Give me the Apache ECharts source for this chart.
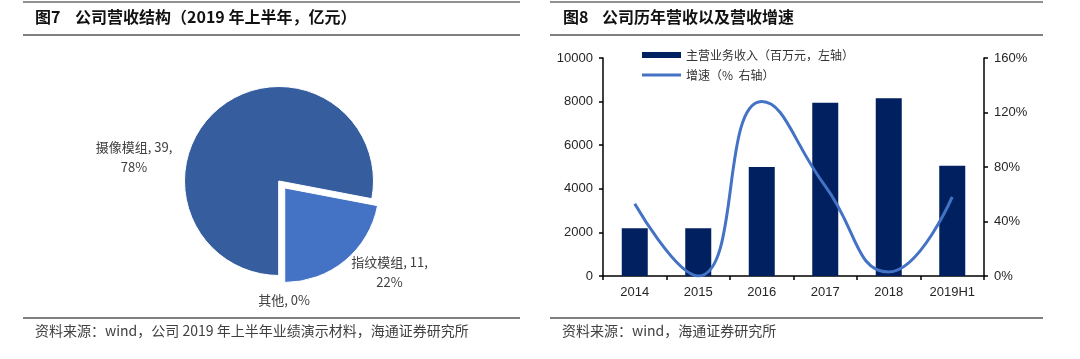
<!DOCTYPE html>
<html>
<head>
<meta charset="utf-8">
<script src="https://cdn.jsdelivr.net/npm/echarts@6/dist/echarts.min.js"></script>
<style>
html,body{margin:0;padding:0;background:#fff;}
#c{width:1080px;height:359px;}
</style>
</head>
<body>
<div id="c"></div>
<script>
// Pie data (2019H1, 亿元)
const pieNames = ['摄像模组', '指纹模组', '其他'];
const pieValues = [39, 11, 0];
// Bar + line data
const years = ['2014', '2015', '2016', '2017', '2018', '2019H1'];
const revenue = [2190, 2190, 5000, 7950, 8150, 5060];
const growth = [53, 0, 128, 66, 3, 58];
// Tick labels
const leftTicks = [0, 2000, 4000, 6000, 8000, 10000];
const rightTicks = [0, 40, 80, 120, 160];

const pieLabelPos = [[134, 157], [412, 252], [284, 300]];

const CJK = '"Noto Sans CJK SC", "Liberation Sans", sans-serif';
const LAT = '"Liberation Sans", Arial, sans-serif';

const chart = echarts.init(document.getElementById('c'), null, {renderer: 'canvas'});

const option = {
  backgroundColor: '#fff',
  animation: false,
  graphic: [
    {type: 'line', shape: {x1: 23, y1: 2, x2: 520, y2: 2}, style: {stroke: '#222', lineWidth: 1}},
    {type: 'line', shape: {x1: 23, y1: 35, x2: 520, y2: 35}, style: {stroke: '#7f7f7f', lineWidth: 2}},
    {type: 'line', shape: {x1: 23, y1: 318, x2: 520, y2: 318}, style: {stroke: '#7f7f7f', lineWidth: 2}},
    {type: 'line', shape: {x1: 550, y1: 2, x2: 1043, y2: 2}, style: {stroke: '#222', lineWidth: 1}},
    {type: 'line', shape: {x1: 550, y1: 35, x2: 1043, y2: 35}, style: {stroke: '#7f7f7f', lineWidth: 2}},
    {type: 'line', shape: {x1: 550, y1: 318, x2: 1043, y2: 318}, style: {stroke: '#7f7f7f', lineWidth: 2}},
    {type: 'text', left: 35, top: 9, style: {text: '图7', font: 'bold 16px ' + CJK, fill: '#111'}},
    {type: 'text', left: 75, top: 9, style: {text: '公司营收结构（2019 年上半年，亿元）', font: 'bold 16px ' + CJK, fill: '#111'}},
    {type: 'text', left: 563, top: 9, style: {text: '图8', font: 'bold 16px ' + CJK, fill: '#111'}},
    {type: 'text', left: 602, top: 9, style: {text: '公司历年营收以及营收增速', font: 'bold 16px ' + CJK, fill: '#111'}},
    {type: 'text', left: 35, top: 324, style: {text: '资料来源：wind，公司 2019 年上半年业绩演示材料，海通证券研究所', font: '14px ' + CJK, fill: '#404040'}},
    {type: 'text', left: 562, top: 324, style: {text: '资料来源：wind，海通证券研究所', font: '14px ' + CJK, fill: '#404040'}}
  ],
  legend: {
    orient: 'vertical',
    left: 637,
    top: 44,
    itemWidth: 39,
    itemHeight: 6,
    itemGap: 8,
    symbolKeepAspect: true,
    textStyle: {fontSize: 12, color: '#333', fontFamily: CJK},
    data: [
      {name: '主营业务收入（百万元，左轴）', icon: 'rect'},
      {name: '增速（%  右轴）', icon: 'path://M0,0L39,0L39,3L0,3Z'}
    ]
  },
  grid: {left: 603, right: 96, top: 58, bottom: 83, containLabel: false},
  xAxis: {
    type: 'category',
    data: years,
    axisLine: {lineStyle: {color: '#000', width: 1.5}},
    axisTick: {show: true, length: 4, lineStyle: {color: '#000', width: 1.5}},
    axisLabel: {color: '#262626', fontSize: 13, fontFamily: LAT, margin: 10}
  },
  yAxis: [
    {
      type: 'value', min: 0, max: 10000, interval: 2000,
      axisLine: {show: true, lineStyle: {color: '#000', width: 1.5}},
      axisTick: {show: true, length: 4, lineStyle: {color: '#000', width: 1.5}},
      splitLine: {show: false},
      axisLabel: {color: '#262626', fontSize: 13, fontFamily: LAT, margin: 10,
        formatter: function (v) { return leftTicks.indexOf(v) >= 0 ? String(v) : ''; }}
    },
    {
      type: 'value', min: 0, max: 160, interval: 40, position: 'right',
      axisLine: {show: true, lineStyle: {color: '#000', width: 1.5}},
      axisTick: {show: true, length: 4, lineStyle: {color: '#000', width: 1.5}},
      splitLine: {show: false},
      axisLabel: {color: '#262626', fontSize: 13, fontFamily: LAT, margin: 10,
        formatter: function (v) { return rightTicks.indexOf(v) >= 0 ? v + '%' : ''; }}
    }
  ],
  series: [
    {
      name: '主营业务收入（百万元，左轴）',
      type: 'bar',
      data: revenue,
      barWidth: 26,
      itemStyle: {color: '#002060'},
      yAxisIndex: 0
    },
    {
      name: '增速（%  右轴）',
      type: 'line',
      data: growth,
      yAxisIndex: 1,
      smooth: 0.5,
      symbol: 'none',
      showSymbol: false,
      lineStyle: {color: '#4472C4', width: 3},
      itemStyle: {color: '#4472C4'}
    },
    {
      type: 'pie',
      center: [279, 181],
      radius: 94.5,
      startAngle: -90,
      clockwise: true,
      selectedMode: 'single',
      selectedOffset: 9,
      avoidLabelOverlap: false,
      emphasis: {disabled: true},
      itemStyle: {borderColor: '#fff', borderWidth: 1},
      labelLine: {show: false},
      label: {
        show: true,
        position: 'outside',
        fontSize: 13,
        lineHeight: 20,
        color: '#404040',
        fontFamily: CJK,
        align: 'center',
        formatter: function (p) {
          if (p.value === 0) return p.name + ', ' + Math.round(p.percent) + '%';
          return p.name + ', ' + p.value + ',\n' + Math.round(p.percent) + '%';
        }
      },
      labelLayout: function (p) {
        const pos = pieLabelPos[p.dataIndex];
        return {x: pos[0], y: pos[1], align: 'center', verticalAlign: 'middle'};
      },
      data: [
        {name: pieNames[0], value: pieValues[0], itemStyle: {color: '#365E9F'}},
        {name: pieNames[1], value: pieValues[1], selected: true, itemStyle: {color: '#4472C4'}},
        {name: pieNames[2], value: pieValues[2], itemStyle: {color: '#A9B8D8'}}
      ]
    }
  ]
};
chart.setOption(option);
</script>
</body>
</html>
